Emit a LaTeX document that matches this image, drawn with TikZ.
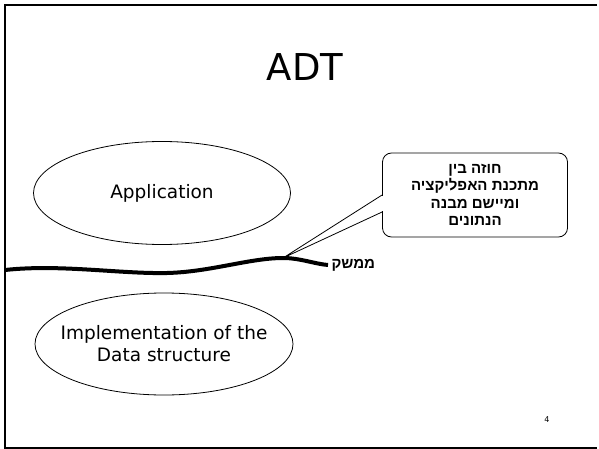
\documentclass[tikz,border=0pt]{standalone}
\usepackage{fontspec}
\setmainfont{DejaVu Sans}
\newfontfamily\hebfont[Script=Hebrew]{Liberation Sans}
\TeXXeTstate=1
\usetikzlibrary{shapes.geometric,calc}
\tikzset{
	blob/.style={draw, ellipse, line width=0.8pt, inner sep=0pt},
	blobtext/.style={align=center, font=\fontsize{18.5}{22}\selectfont},
	heb/.style={font=\hebfont\bfseries\fontsize{15}{17.5}\selectfont},
}
\begin{document}
\begin{tikzpicture}[x=1pt,y=-1pt]
		\useasboundingbox (0,0) rectangle (599,449);
		% slide frame
		\draw[line width=1.5pt] (597,5) -- (5,5) -- (5,448) -- (597,448);
		
		\node (title) at (305,67) {\fontsize{37}{40}\selectfont ADT};
		\node[blob, minimum width=257pt, minimum height=103pt] (app) at (162,193) {};
		\node[blobtext] (apptext) at (app) {Application};
		\node[blob, minimum width=258pt, minimum height=102pt] (impl) at (164,344) {};
		\node[blobtext] (impltext) at (impl) {Implementation of the\\Data structure};
		
		% the interface
		\draw[line width=4pt] (5,270) .. controls (60,264) and (120,274) .. (167,273)
			.. controls (210,272) and (250,258) .. (283,258) coordinate (tip)
			.. controls (300,258) and (315,264) .. (328,265) coordinate (wend);
		\node[heb, anchor=west] (iface) at (wend) {\beginR ממשק\endR};
		
		\node[heb, draw, line width=0.8pt, rounded corners=9pt, align=center, minimum width=185pt, minimum height=84pt] (note) at (475,195)
			{\beginR חוזה בין\endR\\\beginR מתכנת האפליקציה\endR\\\beginR ומיישם מבנה\endR\\\beginR הנתונים\endR};
		\draw[white, line width=2pt] ($(note.west)+(0,1)$) -- ($(note.west)+(0,16)$);
		\draw[line width=0.8pt] ($(note.west)+(0,0)$) -- (tip) -- ($(note.west)+(0,17)$);
		
		\node[font=\fontsize{8}{10}\selectfont] (pnum) at (547,420) {4};
		
	\end{tikzpicture}
\end{document}
